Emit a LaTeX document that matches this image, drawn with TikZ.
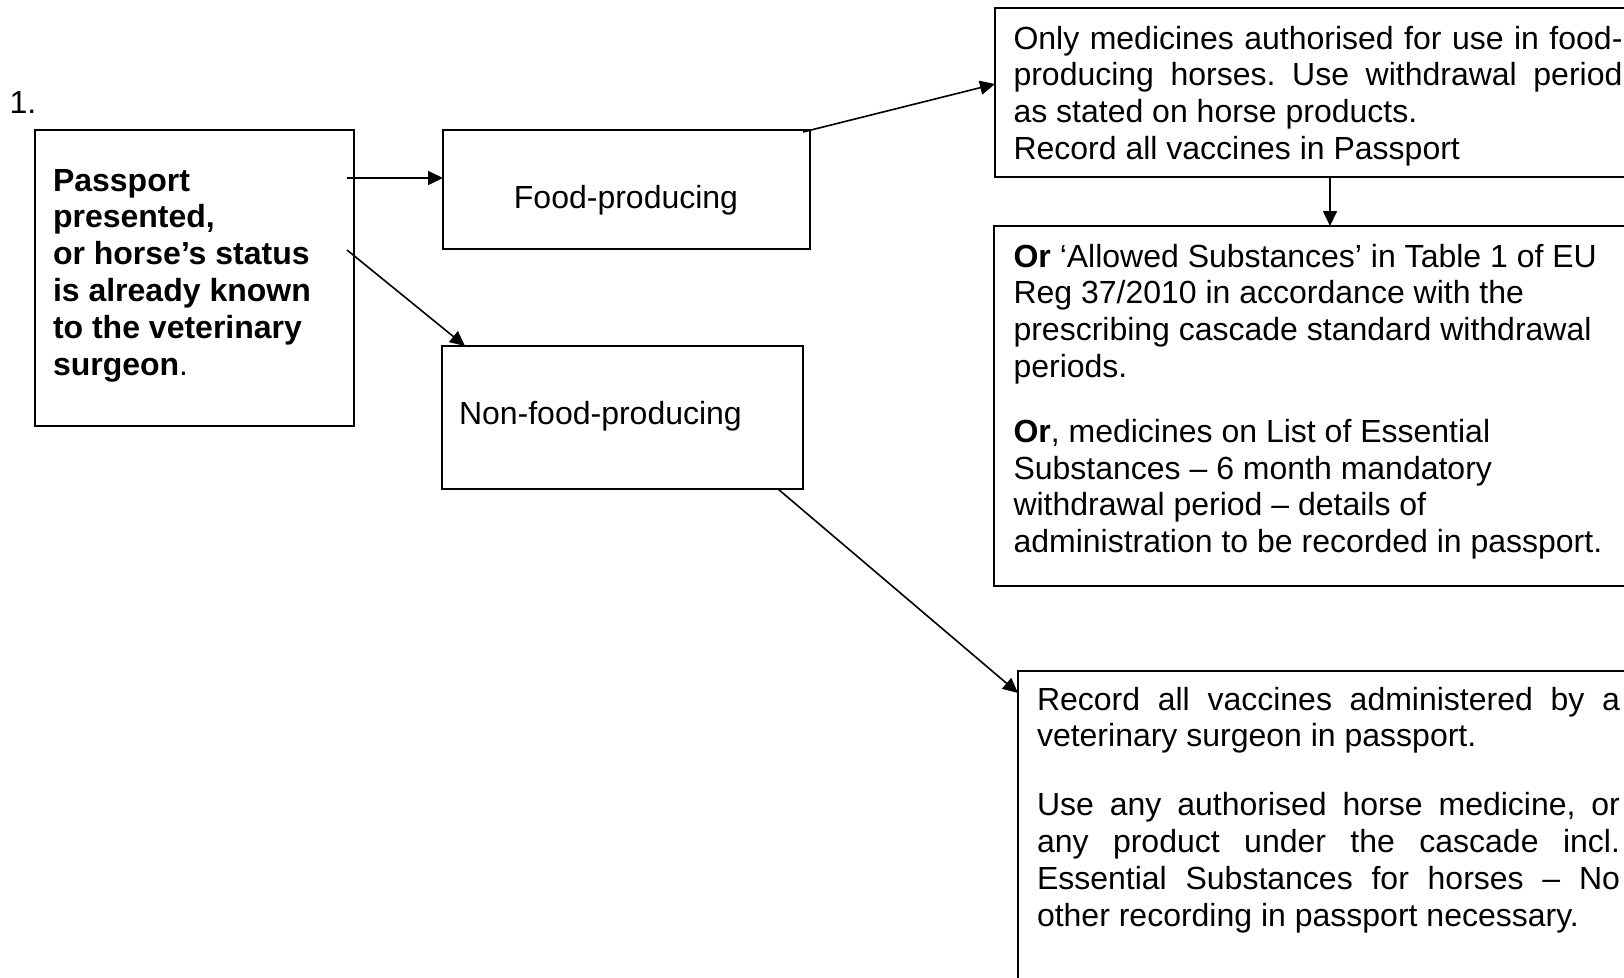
\documentclass[tikz,border=0pt]{standalone}
\usepackage{fontspec}
\setmainfont{Liberation Sans}
\usetikzlibrary{arrows.meta,calc}
\frenchspacing
\begin{document}
\begin{tikzpicture}[x=1pt,y=-1pt,
  box/.style={draw, line width=2pt, rectangle, inner sep=0pt, outer sep=0pt, anchor=north west},
  arr/.style={line width=1.6pt, -{Triangle[length=15pt,width=14pt]}},
  txt/.style={anchor=base west, inner sep=0pt, outer sep=0pt, font=\fontsize{32}{36.8}\selectfont},
  ctxt/.style={anchor=base, inner sep=0pt, outer sep=0pt, font=\fontsize{32}{36.8}\selectfont}]
\useasboundingbox (0,0) rectangle (1624,977);
\clip (0,0) rectangle (1624,977);
\fill[white] (0,0) rectangle (1624,977);

% boxes
\node[box, minimum width=319pt, minimum height=296pt] (pass) at (35,130) {};
\node[box, minimum width=367pt, minimum height=119pt] (food) at (443,130) {};
\node[box, minimum width=361pt, minimum height=143pt] (nonfood) at (442,346) {};
\node[box, minimum width=660pt, minimum height=169pt] (top) at (995,8) {};
\node[box, minimum width=660pt, minimum height=360pt] (or) at (994,226) {};
\node[box, minimum width=660pt, minimum height=340pt] (bottom) at (1018,671) {};

% texts
\node[txt] (num) at (9.5,113) {1.};
\node[txt] (ptxt) at (53,191) {\parbox[t]{290pt}{\raggedright\bfseries Passport\\ presented,\\ or horse’s status\\ is already known\\ to the veterinary\\ surgeon\mdseries.}};
\node[ctxt] (ftxt) at (626,208) {Food-producing};
\node[txt] (ntxt) at (459,424) {Non-food-producing};
\node[txt] (ttxt) at (1013.5,49) {\parbox[t]{609pt}{\raggedright
  \makebox[609pt][s]{Only medicines authorised for use in food-}\\
  \makebox[609pt][s]{producing horses. Use withdrawal period}\\
  as stated on horse products.\\
  Record all vaccines in Passport}};
\node[txt] (otxt) at (1013.5,267) {\parbox[t]{609pt}{\raggedright
  \textbf{Or} ‘Allowed Substances’ in Table 1 of EU\\
  Reg 37/2010 in accordance with the\\
  prescribing cascade standard withdrawal\\
  periods.\\[28pt]
  \textbf{Or}, medicines on List of Essential\\
  Substances – 6 month mandatory\\
  withdrawal period – details of\\
  administration to be recorded in passport.}};
\node[txt] (btxt) at (1037,710) {\parbox[t]{583pt}{\raggedright
  \makebox[583pt][s]{Record all vaccines administered by a}\\
  veterinary surgeon in passport.\\[32pt]
  \makebox[583pt][s]{Use any authorised horse medicine, or}\\
  \makebox[583pt][s]{any product under the cascade incl.}\\
  \makebox[583pt][s]{Essential Substances for horses – No}\\
  other recording in passport necessary.}};

% connectors
\coordinate (s1) at (347,178);
\coordinate (s2) at (347,250);
\draw[arr] (s1) -- (s1 -| food.west);
\draw[arr] (s2) -- ($(nonfood.north west)+(23,0)$);
\draw[arr] ($(food.north east)+(-7,2)$) -- ($(top.north west)+(0,76)$);
\draw[arr] ($(top.south west)+(335,0)$) -- ($(or.north west)+(336,0)$);
\draw[arr] ($(nonfood.south east)+(-25,0)$) -- ($(bottom.north west)+(0,22)$);
\end{tikzpicture}
\end{document}
